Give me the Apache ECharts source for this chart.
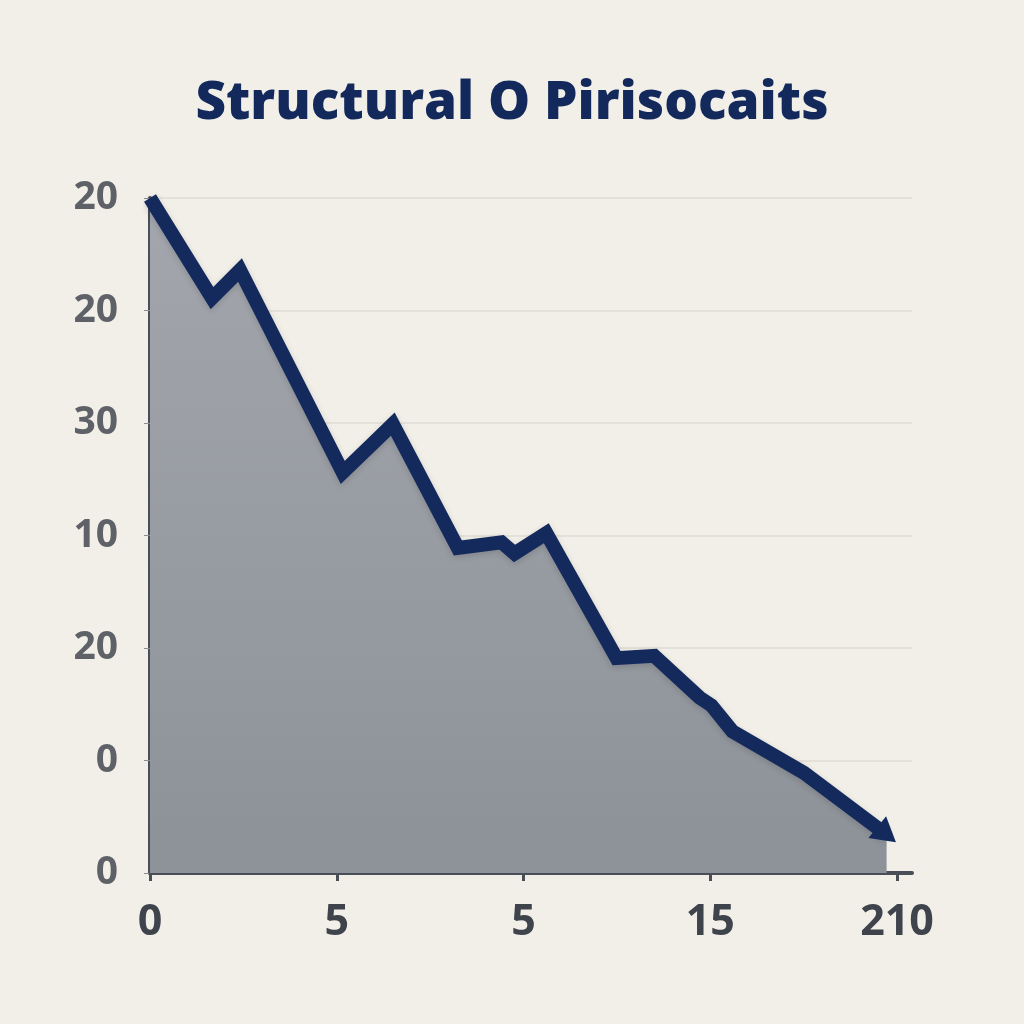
<!DOCTYPE html>
<html><head><meta charset="utf-8">
<script src="https://cdn.jsdelivr.net/npm/echarts@6/dist/echarts.min.js"></script>
<style>html,body{margin:0;padding:0;background:#f1efe8}#c{width:1024px;height:1024px}</style>
</head><body><div id="c"></div>
<script>
const title = 'Structural O Pirisocaits';
const xValues = [0, 1.66, 2.41, 5.16, 6.50, 8.24, 9.41, 9.76, 10.61, 12.49, 13.50, 14.71, 15.03, 15.59, 17.51, 19.72];
const yValues = [6.0, 5.11, 5.36, 3.56, 3.99, 2.89, 2.94, 2.84, 3.02, 1.91, 1.93, 1.56, 1.49, 1.26, 0.89, 0.34];
const xTickValues = [0, 5, 10, 15, 20];
const xTickLabels = ['0', '5', '5', '15', '210'];
const yTickLabels = ['0', '0', '20', '10', '30', '20', '20'];

const data = xValues.map((x, i) => {
  if (i === xValues.length - 1) {
    return {value: [x, yValues[i]], symbol: 'triangle', symbolSize: [28, 24], symbolRotate: -129,
      itemStyle: {color: '#142a5c'}};
  }
  return [x, yValues[i]];
});

const chart = echarts.init(document.getElementById('c'));
chart.setOption({
  backgroundColor: '#f1efe8',
  animation: false,
  title: {
    text: title, left: 'center', top: 72,
    textStyle: {fontFamily: 'Open Sans', fontWeight: 800, fontSize: 53, color: '#14295b'}
  },
  grid: {left: 150, right: 112, top: 198, bottom: 151},
  xAxis: {
    type: 'value', min: 0, max: 20.4,
    axisLine: {show: true, lineStyle: {color: '#4a4f57', width: 4}},
    axisTick: {show: true, customValues: xTickValues, length: 8, lineStyle: {color: '#4a4f57', width: 3}},
    axisLabel: {customValues: xTickValues, margin: 28, fontFamily: 'Open Sans', fontWeight: 'bold', fontSize: 43, color: '#3f444c',
      formatter: v => xTickLabels[xTickValues.indexOf(v)] ?? ''},
    splitLine: {show: false}
  },
  yAxis: {
    type: 'value', min: 0, max: 6, interval: 1,
    axisLine: {show: true, lineStyle: {color: '#4a4f57', width: 4}},
    axisTick: {show: true, length: 6, lineStyle: {color: '#8a8d92', width: 1}},
    axisLabel: {margin: 32, fontFamily: 'Open Sans', fontWeight: 'bold', fontSize: 39, color: '#5e6167',
      formatter: v => yTickLabels[Math.round(v)] ?? ''},
    splitLine: {show: true, lineStyle: {color: '#e3e1d9', width: 2}}
  },
  series: [{
    type: 'line', data: data, symbol: 'none', showSymbol: true,
    lineStyle: {color: '#142a5c', width: 14, join: 'miter', shadowColor: 'rgba(0,0,0,0.15)', shadowBlur: 6, shadowOffsetY: 2},
    areaStyle: {color: new echarts.graphic.LinearGradient(0, 0, 0, 1, [
      {offset: 0, color: '#a3a6ac'}, {offset: 1, color: '#8d9299'}]), opacity: 1},
    z: 3
  }]
});
</script></body></html>
